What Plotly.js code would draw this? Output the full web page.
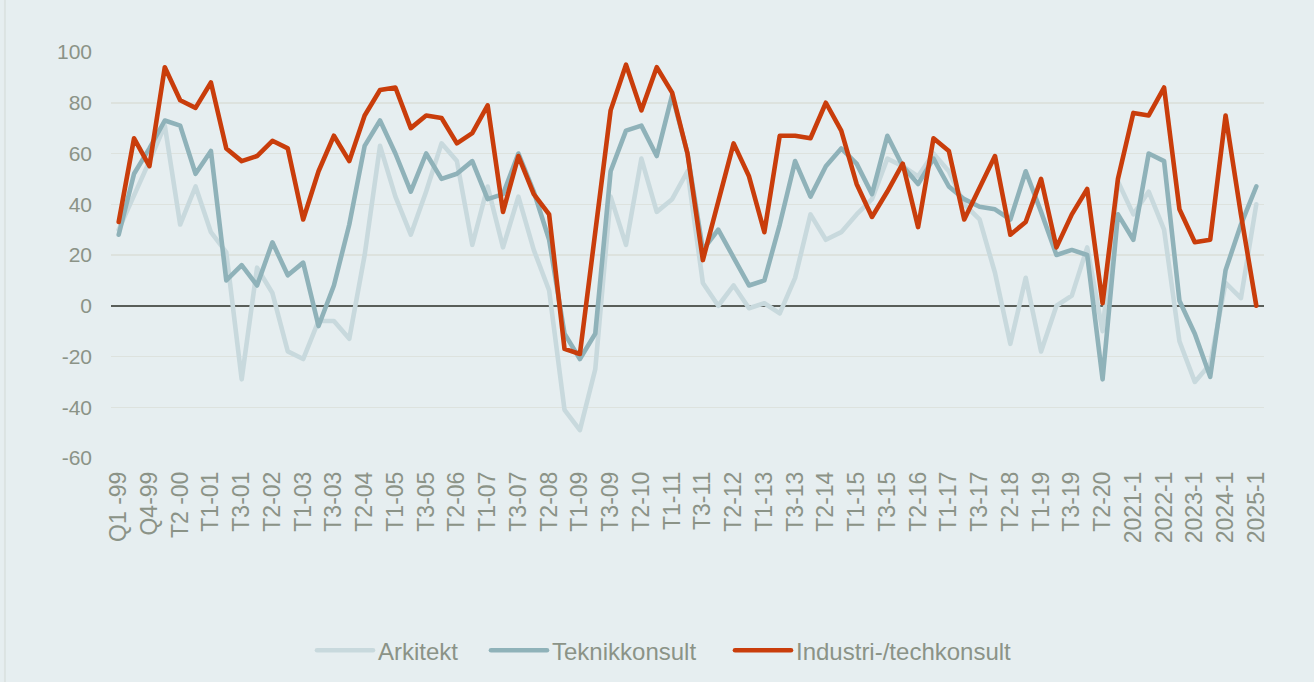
<!DOCTYPE html>
<html>
<head>
<meta charset="utf-8">
<script src="https://cdn.plot.ly/plotly-3.0.1.min.js"></script>
<style>
  html, body { margin: 0; padding: 0; background: #e6eef0; }
  #chart { width: 1314px; height: 682px; }
  .js-line { stroke-linejoin: round; stroke-linecap: round; }
</style>
</head>
<body>
<div id="chart"></div>
<script>
// Categories (quarters 1999, tertials 2000-2020, half-years from 2021)
const categories = [
  "Q1 -99","Q3-99","Q4-99","T1-00","T2 -00","T3-00",
  "T1-01","T2-01","T3-01","T1-02","T2-02","T3-02",
  "T1-03","T2-03","T3-03","T1-04","T2-04","T3-04",
  "T1-05","T2-05","T3-05","T1-06","T2-06","T3-06",
  "T1-07","T2-07","T3-07","T1-08","T2-08","T3-08",
  "T1-09","T2-09","T3-09","T1-10","T2-10","T3-10",
  "T1-11","T2-11","T3-11","T1-12","T2-12","T3-12",
  "T1-13","T2-13","T3-13","T1-14","T2-14","T3-14",
  "T1-15","T2-15","T3-15","T1-16","T2-16","T3-16",
  "T1-17","T2-17","T3-17","T1-18","T2-18","T3-18",
  "T1-19","T2-19","T3-19","T1-20","T2-20","T3-20",
  "2021-1","2021-2","2022-1","2022-2","2023-1","2023-2",
  "2024-1","2024-2","2025-1"
];

// Tick labels shown on the axis (every second category)
const tickLabels = categories.filter((c, i) => i % 2 === 0);

const seriesNames = ["Arkitekt", "Teknikkonsult", "Industri-/techkonsult"];

const arkitekt = [
  30, 43, 57, 71, 32, 47, 29, 21, -29, 15, 5, -18,
  -21, -6, -6, -13, 20, 63, 43, 28, 45, 64, 57, 24,
  47, 23, 43, 22, 6, -41, -49, -25, 43, 24, 58, 37,
  42, 53, 9, 0, 8, -1, 1, -3, 11, 36, 26, 29,
  36, 42, 58, 55, 51, 60, 53, 40, 34, 13, -15, 11,
  -18, 0, 4, 23, -10, 49, 36, 45, 30, -14, -30, -23,
  9, 3, 40
];

const teknikkonsult = [
  28, 52, 62, 73, 71, 52, 61, 10, 16, 8, 25, 12,
  17, -8, 8, 32, 63, 73, 60, 45, 60, 50, 52, 57,
  42, 44, 60, 45, 26, -11, -21, -11, 53, 69, 71, 59,
  83, 60, 22, 30, 19, 8, 10, 32, 57, 43, 55, 62,
  56, 44, 67, 55, 48, 58, 47, 42, 39, 38, 34, 53,
  37, 20, 22, 20, -29, 36, 26, 60, 57, 2, -11, -28,
  14, 32, 47
];

const industri = [
  33, 66, 55, 94, 81, 78, 88, 62, 57, 59, 65, 62,
  34, 53, 67, 57, 75, 85, 86, 70, 75, 74, 64, 68,
  79, 37, 59, 44, 36, -17, -19, 30, 77, 95, 77, 94,
  84, 60, 18, 41, 64, 51, 29, 67, 67, 66, 80, 69,
  48, 35, 45, 56, 31, 66, 61, 34, 47, 59, 28, 33,
  50, 23, 36, 46, 1, 50, 76, 75, 86, 38, 25, 26,
  75, 36, 0
];

const yTicks = [-60, -40, -20, 0, 20, 40, 60, 80, 100];

const textColor = "#8b9387";
const bg = "#e6eef0";

const traces = [
  { x: categories, y: arkitekt, name: seriesNames[0], type: "scatter", mode: "lines",
    legend: "legend", line: { color: "#c8d9dd", width: 4.6 } },
  { x: categories, y: teknikkonsult, name: seriesNames[1], type: "scatter", mode: "lines",
    legend: "legend2", line: { color: "#8fb2b9", width: 4.6 } },
  { x: categories, y: industri, name: seriesNames[2], type: "scatter", mode: "lines",
    legend: "legend3", line: { color: "#c93d0b", width: 4.6 } }
];

function legendAt(px) {
  return {
    orientation: "h",
    xref: "container",
    yref: "container",
    x: px / 1314,
    xanchor: "left",
    y: 0.046,
    yanchor: "middle",
    itemwidth: 56,
    font: { size: 24, color: textColor },
    bgcolor: "rgba(0,0,0,0)"
  };
}

const layout = {
  width: 1314,
  height: 682,
  paper_bgcolor: bg,
  plot_bgcolor: bg,
  margin: { l: 111, r: 50, t: 52, b: 224 },
  font: { family: "Liberation Sans, Arial, sans-serif", color: textColor },
  showlegend: true,
  xaxis: {
    type: "category",
    range: [-0.5, categories.length - 0.5],
    tickmode: "array",
    tickvals: tickLabels,
    ticktext: tickLabels,
    tickangle: -90,
    tickfont: { size: 23, color: textColor },
    ticklabelstandoff: 8,
    showgrid: false,
    zeroline: false,
    showline: false,
    ticks: "",
    fixedrange: true
  },
  yaxis: {
    range: [-60, 100],
    tickmode: "array",
    tickvals: yTicks,
    ticktext: yTicks.map(String),
    tickfont: { size: 21, color: textColor },
    ticklabelstandoff: 18,
    showgrid: true,
    gridcolor: "#dde2de",
    gridwidth: 1.5,
    zeroline: true,
    zerolinecolor: "#595e59",
    zerolinewidth: 1.5,
    showline: false,
    ticks: "",
    fixedrange: true
  },
  legend: legendAt(312),
  legend2: legendAt(486),
  legend3: legendAt(730),
  shapes: [
    { type: "line", xref: "paper", yref: "paper",
      x0: -0.092, x1: -0.092, y0: -0.56, y1: 1.14,
      line: { color: "#dce3e2", width: 2 } }
  ]
};

Plotly.newPlot("chart", traces, layout, { displayModeBar: false, staticPlot: true });
</script>
</body>
</html>
